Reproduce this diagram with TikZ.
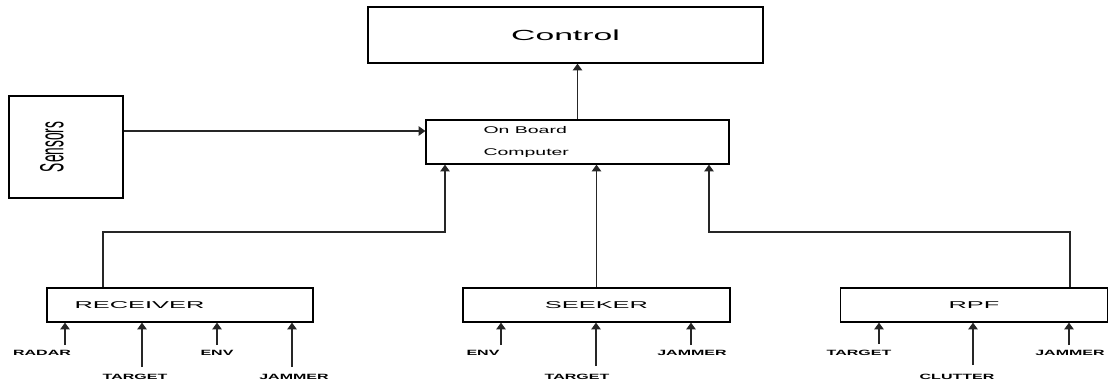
\documentclass[tikz,border=0pt]{standalone}
\usepackage{fontspec}
\setmainfont{Liberation Sans}
\usepackage{graphicx}
\usetikzlibrary{arrows.meta,positioning}

% stretched text, as the drawing sets its labels wide
\newcommand{\wtxt}[2]{\scalebox{#1}[1]{#2}}

\begin{document}
\begin{tikzpicture}[x=0.03cm, y=-0.03cm,
    >={Triangle[length=2mm,width=2.8mm]},
    blk/.style={draw, line width=1.1pt, inner sep=0pt},
    bw/.style={minimum width=#1*0.03cm},
    bh/.style={minimum height=#1*0.03cm},
    boxfont/.style={font=\fontsize{8.5}{8.5}\selectfont},
    lbl/.style={inner sep=0pt, font=\bfseries\fontsize{6.5}{6.5}\selectfont},
    wire/.style={line width=1pt, black!85}]

    % Set box dimensions (in pixels of the drawing)
    \pgfmathsetmacro{\boxh}{34}
    \pgfmathsetmacro{\boxw}{267}

    \useasboundingbox (0,0) rectangle (1108,386);

    % Draw Control and On Board Computer boxes
    \node[blk, bw=395, bh=56, font=\fontsize{12.5}{12.5}\selectfont] at (565.5,35) (ctrl) {\wtxt{2.3}{Control}};
    \node[blk, bw=303, bh=44] at (577.5,142) (obc) {};
    \node[anchor=west, align=left, inner sep=0pt, font=\fontsize{8.3}{19.5}\selectfont]
        at ([xshift=1.74cm]obc.west) (obctxt) {\wtxt{2}{On Board}\\\wtxt{2}{Computer}};

    \draw[->, wire] (obc.north) -- (obc.north |- ctrl.south);

    % Draw Sensors box and its arrow
    \node[blk, bw=114, bh=102] at (66,147) (sens) {};
    \node[rotate=90, inner sep=0pt, font=\fontsize{28.5}{28.5}\selectfont] at (52,147) (senstxt) {\wtxt{0.41}{Sensors}};
    \coordinate (sin) at (0,131);
    \draw[->, wire] (sens.east |- sin) -- (obc.west |- sin);

    % Draw Receiver, Seeker and RPF boxes
    \node[blk, bw=266, bh=\boxh] at (180,305) (rec) {};
    \node[anchor=west, inner sep=0pt, boxfont] at ([xshift=0.84cm]rec.west) (rectxt) {\wtxt{2.55}{RECEIVER}};
    \node[blk, bw=\boxw, bh=\boxh, boxfont] at (596.5,305) (seek) {\wtxt{2.55}{SEEKER}};
    \node[blk, bw=\boxw, bh=\boxh, boxfont] at (974,305) (rpf) {\wtxt{2.55}{RPF}};

    % Lines up to the computer
    \coordinate (rup) at (103,232);
    \coordinate (lin) at (445,0);
    \draw[->, wire] (rec.north -| rup) -- (rup) -| (obc.south -| lin);
    \draw[->, wire] (seek.north) -- (seek.north |- obc.south);
    \coordinate (pup) at (1070,232);
    \coordinate (rin) at (709,0);
    \draw[->, wire] (rpf.north -| pup) -- (pup) -| (obc.south -| rin);

    % Receiver inputs
    \node[lbl] at (42,353) (rradar) {\wtxt{2.1}{RADAR}};
    \node[lbl] at (135,377) (rtarget) {\wtxt{2.1}{TARGET}};
    \node[lbl] at (217,353) (renv) {\wtxt{2.1}{ENV}};
    \node[lbl] at (294,377) (rjammer) {\wtxt{2.1}{JAMMER}};
    \coordinate (rradar-in) at (65,345);
    \coordinate (rtarget-in) at (142,367);
    \coordinate (renv-in) at (217,345);
    \coordinate (rjammer-in) at (292,367);
    \draw[->, wire] (rradar-in) -- (rec.south -| rradar-in);
    \draw[->, wire] (rtarget-in) -- (rec.south -| rtarget-in);
    \draw[->, wire] (renv-in) -- (rec.south -| renv-in);
    \draw[->, wire] (rjammer-in) -- (rec.south -| rjammer-in);

    % Seeker inputs
    \node[lbl] at (483,353) (senv) {\wtxt{2.1}{ENV}};
    \node[lbl] at (577,377) (starget) {\wtxt{2.1}{TARGET}};
    \node[lbl] at (692,353) (sjammer) {\wtxt{2.1}{JAMMER}};
    \coordinate (senv-in) at (501,345);
    \coordinate (starget-in) at (596,366);
    \coordinate (sjammer-in) at (691,345);
    \draw[->, wire] (senv-in) -- (seek.south -| senv-in);
    \draw[->, wire] (starget-in) -- (seek.south -| starget-in);
    \draw[->, wire] (sjammer-in) -- (seek.south -| sjammer-in);

    % RPF inputs
    \node[lbl] at (859,353) (ptarget) {\wtxt{2.1}{TARGET}};
    \node[lbl] at (957,377) (pclutter) {\wtxt{2.1}{CLUTTER}};
    \node[lbl] at (1070,353) (pjammer) {\wtxt{2.1}{JAMMER}};
    \coordinate (ptarget-in) at (879,344);
    \coordinate (pclutter-in) at (973,365);
    \coordinate (pjammer-in) at (1069,345);
    \draw[->, wire] (ptarget-in) -- (rpf.south -| ptarget-in);
    \draw[->, wire] (pclutter-in) -- (rpf.south -| pclutter-in);
    \draw[->, wire] (pjammer-in) -- (rpf.south -| pjammer-in);
\end{tikzpicture}
\end{document}
